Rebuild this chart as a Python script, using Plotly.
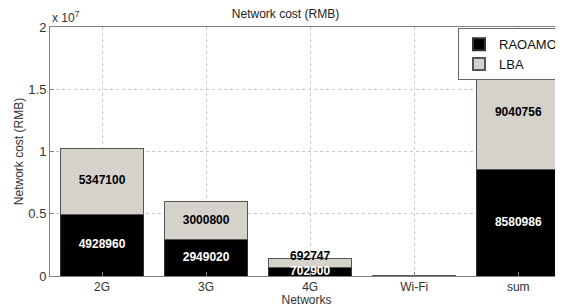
import plotly.graph_objects as go

categories = ["2G", "3G", "4G", "Wi-Fi", "sum"]
raoamo = [4928960, 2949020, 702900, 30000, 8580986]
lba = [5347100, 3000800, 692747, 25000, 9040756]
raoamo_labels = ["4928960", "2949020", "702900", "", "8580986"]
lba_labels = ["5347100", "3000800", "692747", "", "9040756"]
y_ticks = [0, 0.5e7, 1e7, 1.5e7, 2e7]
y_ticktext = ["0", "0.5", "1", "1.5", "2"]

FONT = "Liberation Sans, Arial, sans-serif"

fig = go.Figure()
fig.add_trace(go.Bar(x=categories, y=raoamo, name="RAOAMO", width=0.8,
                     marker=dict(color="black", line=dict(color="#333", width=1))))
fig.add_trace(go.Bar(x=categories, y=lba, name="LBA", width=0.8,
                     marker=dict(color="#d5d2cb", line=dict(color="#555", width=1))))

# labels from data: midpoints of segments (skip categories without labels)
bx, by, bt = [], [], []
gx, gy, gt, gp = [], [], [], []
for c, r, l, tr, tl in zip(categories, raoamo, lba, raoamo_labels, lba_labels):
    if tr:
        bx.append(c); by.append(r / 2); bt.append(tr)
    if tl:
        gx.append(c); gy.append(r + l / 2); gt.append(tl)
        # short segment: put the label above its midpoint
        gp.append("top center" if l < 1.5e6 else "middle center")

fig.add_trace(go.Scatter(x=bx, y=by, mode="text", text=bt,
                         textposition="middle center", showlegend=False, hoverinfo="skip",
                         textfont=dict(color="white", size=12, family=FONT, weight="bold")))
fig.add_trace(go.Scatter(x=gx, y=gy, mode="text", text=gt,
                         textposition=gp, showlegend=False, hoverinfo="skip",
                         textfont=dict(color="black", size=12, family=FONT, weight="bold")))

fig.update_layout(
    width=555, height=299,
    margin=dict(l=42, r=0, t=19, b=31),
    barmode="stack",
    plot_bgcolor="white", paper_bgcolor="white",
    font=dict(family=FONT, size=12, color="#333"),
    title=dict(text="Network cost (RMB)", x=0.5, xanchor="center", y=0.995, yanchor="top",
               font=dict(size=12, color="#222")),
    legend=dict(x=1.0, xanchor="right", y=0.995, yanchor="top", bgcolor="white",
                bordercolor="#666", borderwidth=1, font=dict(size=13, color="#111"),
                tracegroupgap=0, itemsizing="constant", traceorder="normal",
                itemwidth=30),
    showlegend=True,
)
fig.update_xaxes(range=[-0.5, 4.43], showline=True, linecolor="#808080", linewidth=1,
                 mirror=True, ticks="inside", ticklen=4, tickcolor="#808080",
                 showgrid=True, gridcolor="#c8c8c8", griddash="dot", gridwidth=1,
                 tickfont=dict(size=12, color="#333"),
                 title=dict(text="Networks", font=dict(size=12, color="#333"), standoff=0))
fig.update_yaxes(range=[0, 2e7], tickvals=y_ticks, ticktext=y_ticktext,
                 showline=True, linecolor="#808080", linewidth=1,
                 ticks="inside", ticklen=4, tickcolor="#808080",
                 showgrid=True, gridcolor="#c8c8c8", griddash="dot", gridwidth=1,
                 zeroline=False, tickfont=dict(size=13, color="#333"),
                 title=dict(text="Network cost (RMB)", font=dict(size=12, color="#333"), standoff=2))
fig.add_annotation(text="x 10<sup>7</sup>", xref="paper", yref="paper", x=0, y=1,
                   xanchor="left", yanchor="bottom", showarrow=False,
                   font=dict(size=12, color="#333"))
fig.write_html("out.html")
